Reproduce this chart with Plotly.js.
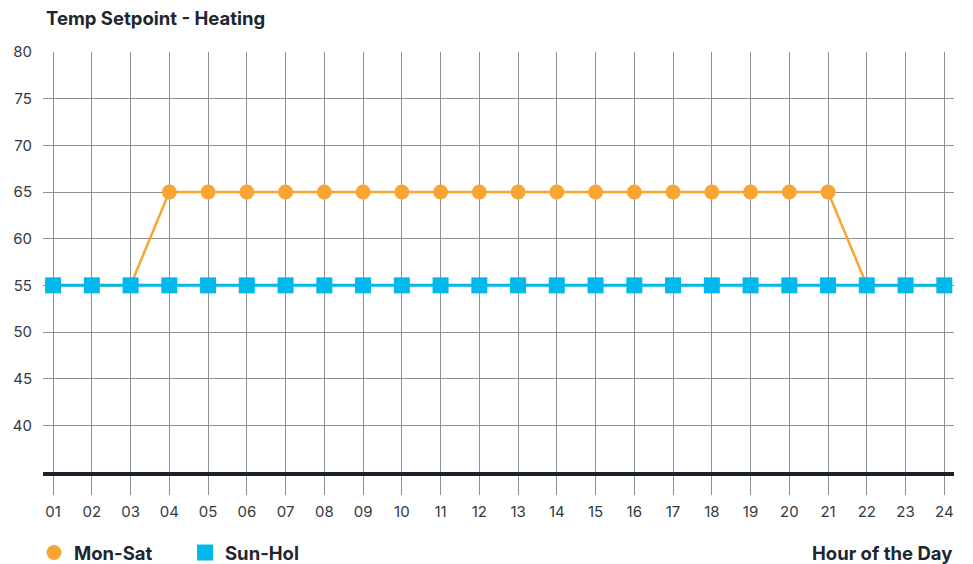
<!DOCTYPE html>
<html>
<head>
<meta charset="utf-8">
<script src="https://cdn.plot.ly/plotly-3.0.1.min.js"></script>
<style>html,body{margin:0;padding:0;background:#fff;}#chart{width:973px;height:564px;}</style>
</head>
<body>
<div id="chart"></div>
<script>
var hours = ["01","02","03","04","05","06","07","08","09","10","11","12","13","14","15","16","17","18","19","20","21","22","23","24"];
var hourNums = [1,2,3,4,5,6,7,8,9,10,11,12,13,14,15,16,17,18,19,20,21,22,23,24];
var monSat = [55,55,55,65,65,65,65,65,65,65,65,65,65,65,65,65,65,65,65,65,65,55,55,55];
var sunHol = [55,55,55,55,55,55,55,55,55,55,55,55,55,55,55,55,55,55,55,55,55,55,55,55];
var yTicks = [40,45,50,55,60,65,70,75,80];

var orange = "#f9a531";
var blue = "#00b8ec";
var textDark = "#1d2730";
var fontFam = "Inter, 'Open Sans', sans-serif";

var traces = [
  {x: hourNums, y: monSat, mode: "lines+markers", name: "Mon-Sat", showlegend: false,
   line: {color: orange, width: 2.5}, marker: {symbol: "circle", size: 15, color: orange}},
  {x: hourNums, y: sunHol, mode: "lines+markers", name: "Sun-Hol", showlegend: false,
   line: {color: blue, width: 3}, marker: {symbol: "square", size: 16, color: blue}},
  {x: [null], y: [null], mode: "markers", name: "Mon-Sat", showlegend: true,
   marker: {symbol: "circle", size: 15, color: orange}},
  {x: [null], y: [null], mode: "markers", name: "Sun-Hol", showlegend: true,
   marker: {symbol: "square", size: 16, color: blue}}
];

var layout = {
  width: 973, height: 564,
  margin: {l: 43, r: 19, t: 52, b: 92},
  paper_bgcolor: "#fff", plot_bgcolor: "#fff",
  font: {family: fontFam, color: "#333a40", size: 15},
  title: {text: "<b>Temp Setpoint - Heating</b>", x: 46/973, xref: "container", xanchor: "left",
          y: 1 - 19/564, yref: "container", yanchor: "middle",
          font: {family: fontFam, size: 18.5, color: textDark}},
  xaxis: {range: [0.74, 24.25], tickvals: hourNums, ticktext: hours,
          showgrid: true, gridcolor: "#8c9196", gridwidth: 1,
          ticks: "outside", ticklen: 19, tickcolor: "#8c9196", tickwidth: 1,
          ticklabelstandoff: 4,
          showline: true, linecolor: "#1b2229", linewidth: 3.5,
          zeroline: false, tickfont: {size: 15, color: "#333a40"}, fixedrange: true},
  yaxis: {range: [35, 80], tickvals: yTicks, showgrid: true, gridcolor: "#8c9196", gridwidth: 1,
          ticks: "", ticklabelstandoff: 10, zeroline: false, showline: false,
          tickfont: {size: 15, color: "#333a40"}, fixedrange: true},
  showlegend: true,
  legend: {orientation: "h", x: 34/973, xref: "container", xanchor: "left",
           y: 1 - 553/564, yref: "container", yanchor: "middle",
           font: {family: fontFam, size: 18.5, color: textDark, weight: "bold"},
           itemwidth: 30, entrywidth: 106, entrywidthmode: "pixels",
           traceorder: "normal", bgcolor: "rgba(0,0,0,0)"},
  annotations: [{text: "<b>Hour of the Day</b>", xref: "paper", x: 1, xanchor: "right",
                 yref: "paper", y: (472 - 553) / 420, yanchor: "middle", showarrow: false,
                 font: {family: fontFam, size: 18.5, color: textDark}}]
};

Plotly.newPlot("chart", traces, layout, {displayModeBar: false, staticPlot: true});
</script>
</body>
</html>
